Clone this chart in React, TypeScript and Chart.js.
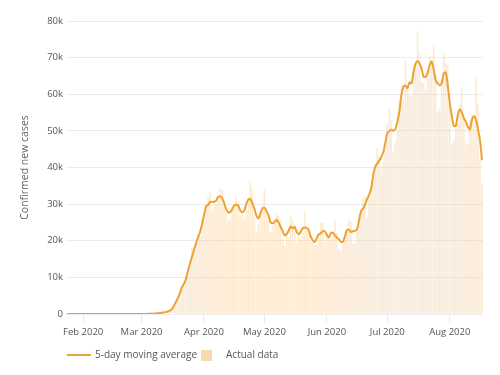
import React, { useEffect, useRef } from "react";
import { Chart, registerables } from "chart.js";

Chart.register(...registerables);

// ---- data ----
const START_DATE = [2020, 0, 24]; // first category: 24 Jan 2020
const MONTH_NAMES = ["Jan", "Feb", "Mar", "Apr", "May", "Jun", "Jul", "Aug", "Sep", "Oct", "Nov", "Dec"];

const actualJan = [1, 0, 2, 0, 0, 0, 1, 2];
const actualFeb = [1, 0, 0, 1, 1, 0, 0, 0, 1, 0, 1, 1, 0, 0, 0, 0, 0, 0, 0, 0, 2, 0, 36, 0, 1, 1, 2, 1, 8];
const actualMar = [7, 23, 20, 31, 68, 45, 140, 116, 65, 376, 322, 382, 516, 548, 772, 1133, 1789, 2300, 4900, 5900, 6900, 7787, 10571, 9893, 12038, 18058, 17821, 19821, 19408, 20922, 26341];
const actualApr = [25200, 30200, 31824, 33264, 28200, 29595, 30000, 32300, 34300, 33900, 29800, 28100, 25500, 26100, 29300, 30100, 32100, 30800, 26900, 28000, 26100, 28400, 31700, 36000, 33900, 27000, 22400, 24400, 27000, 29600];
const actualMay = [34000, 29000, 25500, 22300, 24000, 24600, 27600, 26900, 25500, 20600, 18500, 22000, 20800, 27000, 25400, 24600, 19000, 22800, 20300, 22200, 27900, 23800, 23800, 19700, 19400, 18800, 18800, 21800, 24900, 24800, 19700];
const actualJun = [21900, 21200, 20400, 21300, 25600, 22200, 17800, 17200, 19000, 22300, 22500, 25700, 25200, 19200, 19400, 23600, 26000, 27800, 31500, 32000, 26500, 32000, 35000, 37900, 39700, 45300, 43100, 39600, 41700, 44700];
const actualJul = [51600, 56100, 52800, 44300, 46900, 50200, 58300, 62700, 58700, 69000, 61500, 59900, 59400, 66500, 67400, 77200, 71000, 63300, 62900, 60900, 66100, 70500, 68700, 73700, 65700, 55300, 56100, 64000, 71300, 68500, 68100];
const actualAug = [57800, 46500, 47600, 50500, 54500, 57500, 62000, 54700, 46300, 46600, 53000, 54500, 51900, 64600, 57300, 42500, 35600];

const avgJan = [0, 1, 1, 1, 1, 1, 1, 1];
const avgFeb = [1, 1, 1, 1, 0, 0, 0, 0, 0, 1, 1, 1, 0, 0, 0, 0, 0, 0, 0, 0, 8, 8, 8, 8, 8, 8, 3, 4, 8];
const avgMar = [12, 18, 30, 37, 61, 80, 87, 148, 204, 252, 332, 429, 508, 670, 952, 1308, 2179, 3204, 4358, 5557, 7212, 8210, 9438, 11669, 13676, 15526, 17429, 19206, 20863, 22338, 24414];
const avgApr = [26897, 29366, 29738, 30617, 30577, 30672, 30879, 32019, 32060, 31680, 30320, 28680, 27760, 27820, 28620, 29680, 29840, 29580, 28300, 27800, 28220, 30040, 31220, 31400, 30200, 28740, 26940, 26080, 27480, 28800];
const avgMay = [29020, 28080, 26960, 25080, 24800, 25080, 25720, 25040, 23820, 22700, 21480, 21780, 22740, 23960, 23360, 23760, 22420, 21780, 22440, 23400, 23600, 23480, 22920, 21100, 20100, 19700, 20740, 21820, 22000, 22620, 22500];
const avgJun = [21600, 20900, 22080, 22140, 21460, 20820, 20360, 19700, 19760, 21340, 22940, 22980, 22400, 22620, 22680, 23200, 25660, 28180, 28760, 29960, 31400, 32680, 34220, 37980, 40200, 41120, 41880, 42880, 44140, 46740];
const avgJul = [49380, 49900, 50340, 50060, 50500, 52480, 55360, 59780, 62040, 62360, 61700, 63260, 62940, 66080, 68300, 69080, 68360, 67060, 64840, 64740, 65820, 67980, 68940, 66780, 63900, 62960, 62480, 63040, 65600, 65940, 62440];
const avgAug = [57700, 54100, 51380, 51320, 54420, 55840, 55000, 53420, 52520, 51020, 50460, 53000, 54000, 53000, 50400, 47500, 42000];

const actualData = [...actualJan, ...actualFeb, ...actualMar, ...actualApr, ...actualMay, ...actualJun, ...actualJul, ...actualAug];
const movingAverage = [...avgJan, ...avgFeb, ...avgMar, ...avgApr, ...avgMay, ...avgJun, ...avgJul, ...avgAug];

const Y_MIN = 0;
const Y_MAX = 80000;
const Y_STEP = 10000;

const SERIES_LINE = "5-day moving average";
const SERIES_BARS = "Actual data";
const Y_TITLE = "Confirmed new cases";

// ---- style ----
const LINE_COLOR = "#EFA233";
const BAR_COLOR = "rgba(247, 205, 150, 0.42)";
const SWATCH_COLOR = "rgba(247, 205, 150, 0.75)";
const TEXT_COLOR = "#555";
const FONT = '"Open Sans", sans-serif';

const dates: Date[] = actualData.map((_, i) => new Date(START_DATE[0], START_DATE[1], START_DATE[2] + i));
const labels = dates.map((d) => `${MONTH_NAMES[d.getMonth()]} ${d.getDate()}, ${d.getFullYear()}`);

function lineSwatch() {
  const c = document.createElement("canvas");
  c.width = 24;
  c.height = 2;
  const g = c.getContext("2d")!;
  g.fillStyle = LINE_COLOR;
  g.fillRect(0, 0, 24, 2);
  return c;
}
function rectSwatch() {
  const c = document.createElement("canvas");
  c.width = 22;
  c.height = 11;
  const g = c.getContext("2d")!;
  g.fillStyle = SWATCH_COLOR;
  g.fillRect(2, 0, 11, 11);
  return c;
}

export default function App() {
  const ref = useRef<HTMLCanvasElement | null>(null);

  useEffect(() => {
    if (!ref.current) return;
    const swatches = [lineSwatch(), rectSwatch()];
    const chart = new Chart(ref.current, {
      type: "bar",
      data: {
        labels,
        datasets: [
          {
            type: "line",
            label: SERIES_LINE,
            data: movingAverage,
            borderColor: LINE_COLOR,
            backgroundColor: LINE_COLOR,
            borderWidth: 2,
            pointRadius: 0,
            tension: 0.3,
            order: 0,
          } as any,
          {
            type: "bar",
            label: SERIES_BARS,
            data: actualData,
            backgroundColor: BAR_COLOR,
            borderWidth: 0,
            barPercentage: 0.8,
            categoryPercentage: 1,
            order: 1,
          },
        ],
      },
      options: {
        responsive: false,
        animation: false,
        layout: { padding: { left: 0, right: 17, top: 21, bottom: 5 } },
        plugins: {
          tooltip: { enabled: false },
          legend: {
            position: "bottom",
            align: "start",
            fullSize: false,
            labels: {
              usePointStyle: true,
              pointStyleWidth: 22,
              padding: 2,
              color: TEXT_COLOR,
              font: { family: FONT, size: 10 },
              generateLabels: (ch: any) => {
                const items = Chart.defaults.plugins.legend.labels.generateLabels(ch);
                items.forEach((it: any) => {
                  it.pointStyle = swatches[it.datasetIndex === 0 ? 0 : 1];
                });
                return items;
              },
            },
          },
        },
        scales: {
          x: {
            type: "category",
            offset: true,
            border: { display: false },
            grid: {
              display: true,
              offset: false,
              drawOnChartArea: false,
              color: "#ebebeb",
              drawTicks: true,
              tickLength: 9,
            },
            ticks: {
              autoSkip: false,
              maxRotation: 0,
              minRotation: 0,
              padding: 4,
              color: TEXT_COLOR,
              font: { family: FONT, size: 9.5 },
              callback: (_v: any, index: number) => {
                const d = dates[index];
                if (!d || d.getDate() !== 1) return null;
                return `${MONTH_NAMES[d.getMonth()]} ${d.getFullYear()}`;
              },
            },
            afterFit: (s: any) => {
              s.height = 34;
            },
          },
          y: {
            min: Y_MIN,
            max: Y_MAX,
            border: { display: false },
            grid: { color: "#ececec", drawTicks: false },
            ticks: {
              stepSize: Y_STEP,
              padding: 3,
              color: TEXT_COLOR,
              font: { family: FONT, size: 9.5 },
              callback: (v: any) => (v === 0 ? "0" : `${Number(v) / 1000}k`),
            },
            title: {
              display: true,
              text: Y_TITLE,
              color: "#666",
              font: { family: FONT, size: 10.5 },
              padding: { top: 19, bottom: 0 },
            },
            afterFit: (s: any) => {
              s.width = 66;
            },
          },
        },
      },
    });
    return () => chart.destroy();
  }, []);

  return (
    <div style={{ position: "absolute", left: 0, top: 0, width: 500, height: 375, background: "#fff" }}>
      <canvas ref={ref} width={500} height={375} style={{ display: "block" }} />
    </div>
  );
}
